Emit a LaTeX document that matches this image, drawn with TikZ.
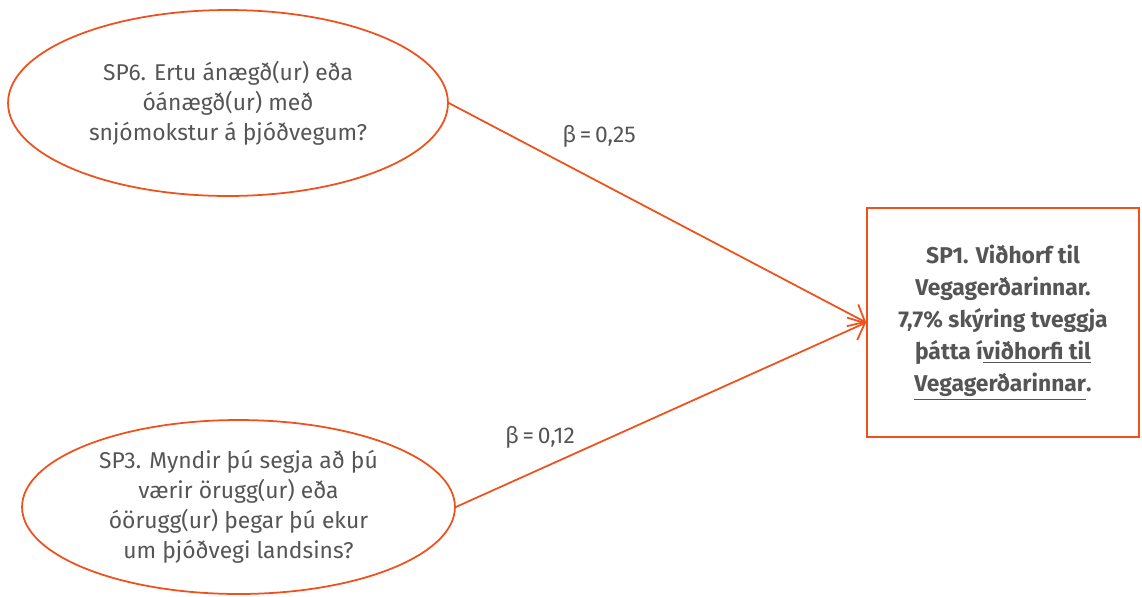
\documentclass[tikz,border=0pt]{standalone}
\usepackage{fontspec}
\setmainfont{Fira Sans}
\usetikzlibrary{shapes.geometric,arrows.meta}
\definecolor{vgorange}{HTML}{F0501A}
\definecolor{vgtext}{HTML}{555555}

\begin{document}
\begin{tikzpicture}[x=0.02cm, y=-0.02cm,
	factor/.style={ellipse, draw=vgorange, line width=1pt, inner sep=0pt,
	minimum width=#1, text=vgtext, align=center, font=\fontsize{13}{17}\selectfont},
	outcome/.style={rectangle, draw=vgorange, line width=1pt, minimum width=5.44cm,
	minimum height=4.58cm, text=vgtext, align=center, font=\fontsize{13}{18.2}\selectfont\bfseries},
	path/.style={draw=vgorange, line width=1pt, -{Straight Barb[length=8pt, width=14pt, line width=1pt]}},
	coef/.style={text=vgtext, font=\fontsize{13}{16}\selectfont}]
\useasboundingbox (0,0) rectangle (1142,596);
% the two factors
\node [factor=8.8cm, minimum height=3.72cm] (sp6) at (228,103)
	{SP6. Ertu ánægð(ur) eða\\óánægð(ur) með\\snjómokstur á þjóðvegum?};
\node [factor=8.66cm, minimum height=3.48cm] (sp3) at (238.5,507)
	{SP3. Myndir þú segja að þú\\værir örugg(ur) eða\\óörugg(ur) þegar þú ekur\\um þjóðvegi landsins?};
% outcome
\node [outcome] (sp1) at (1003,322.5)
	{SP1. Viðhorf til\\Vegagerðarinnar.\\7,7\% skýring tveggja\\þátta í\underline{viðhorfi til}\\\underline{Vegagerðarinnar}.};
% paths
\draw[path] (sp6.east) -- (sp1.west);
\draw[path] (sp3.east) -- (sp1.west);
\node[coef] (b6) at (599,136) {β\,=\,0,25};
\node[coef] (b3) at (540,437) {β\,=\,0,12};
\end{tikzpicture}
\end{document}
